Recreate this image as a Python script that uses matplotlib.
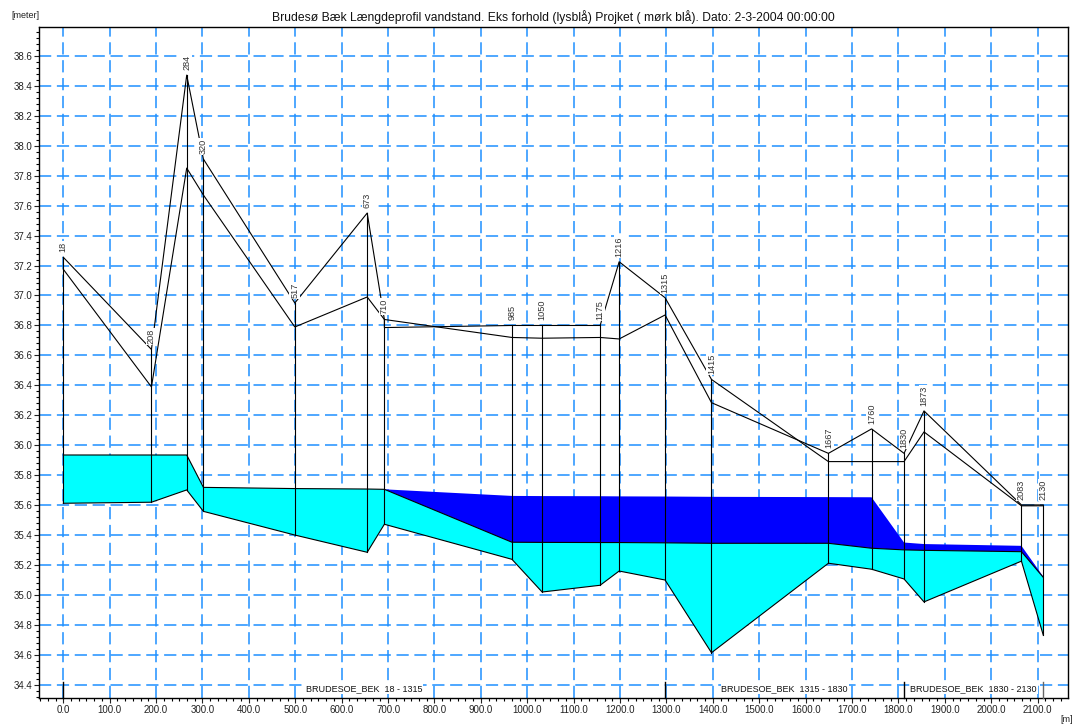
import matplotlib
matplotlib.use("Agg")
import matplotlib.pyplot as plt
from matplotlib.ticker import MultipleLocator, FormatStrFormatter
import numpy as np

plt.rcParams['font.family'] = ['Liberation Sans', 'DejaVu Sans']

# ---------------- data ----------------
title = "Brudesø Bæk Længdeprofil vandstand. Eks forhold (lysblå) Projket ( mørk blå). Dato: 2-3-2004 00:00:00"

# cross-section chainages (labels) along the stream
stations = [18, 208, 284, 320, 517, 673, 710, 985, 1050, 1175, 1216, 1315,
            1415, 1667, 1760, 1830, 1873, 2083, 2130]
# bed level
bed = [35.614, 35.621, 35.703, 35.56, 35.402, 35.287, 35.474, 35.240, 35.022,
       35.067, 35.162, 35.102, 34.617, 35.214, 35.174, 35.109, 34.956, 35.228, 34.735]
# existing water level (light blue)
wl_existing = [35.936, 35.936, 35.936, 35.72, 35.712, 35.709, 35.707, 35.354, 35.353,
               35.352, 35.352, 35.350, 35.347, 35.347, 35.314, 35.303, 35.300, 35.291, 35.12]
# project water level (dark blue)
wl_project = [35.936, 35.936, 35.936, 35.72, 35.712, 35.709, 35.707, 35.663, 35.662,
              35.661, 35.660, 35.659, 35.657, 35.655, 35.654, 35.352, 35.342, 35.330, 35.125]

# bank levels (710 appears twice: the two bank lines jump there)
bank_chainage = [18, 208, 284, 320, 517, 673, 710, 710, 985, 1050, 1175, 1216, 1315,
                 1415, 1667, 1760, 1830, 1873, 2083, 2130]
bank_a = [37.255, 36.64, 38.47, 37.91, 36.95, 37.55, 36.84, 36.84, 36.72, 36.715, 36.72,
          36.71, 36.87, 36.285, 35.947, 36.11, 35.947, 36.23, 35.603, 35.603]
bank_b = [37.175, 36.39, 37.85, 37.67, 36.79, 36.99, 36.84, 36.786, 36.80, 36.80, 36.80,
          37.225, 36.985, 36.44, 35.892, 35.892, 35.892, 36.09, 35.597, 35.597]

branch_names = ["BRUDESOE_BEK", "BRUDESOE_BEK", "BRUDESOE_BEK"]
branch_start = [18, 1315, 1830]
branch_end = [1315, 1830, 2130]

# ---------------- figure ----------------
W, H = 1081, 725
fig = plt.figure(figsize=(W / 100, H / 100), dpi=100)
ax = fig.add_axes([39.3 / W, 1 - 698.3 / H, (1067.7 - 39.3) / W, (698.3 - 26.7) / H])

x0 = stations[0]
xs = np.array(stations) - x0
bx = np.array(bank_chainage) - x0
bed_a = np.array(bed)
wle = np.array(wl_existing)
wlp = np.array(wl_project)

ax.set_xlim(-51.7, 2164.7)
ax.set_ylim(34.313, 38.793)

ax.set_axisbelow(True)
ax.grid(which='major', color='#1E90FF', linestyle=(0, (8, 3.7)), linewidth=1.1)

# fills
ax.fill_between(xs, bed_a, wle, facecolor='#00FFFF', edgecolor='none', zorder=2)
ax.fill_between(xs, wle, wlp, where=wlp > wle + 1e-9, interpolate=True,
                facecolor='#0000FF', edgecolor='none', zorder=2)
ax.plot(xs, bed_a, color='black', lw=0.8, zorder=3)
ax.plot(xs, wle, color='black', lw=0.8, zorder=3)

# bank lines
ax.plot(bx, bank_a, color='black', lw=0.8, zorder=3)
ax.plot(bx, bank_b, color='black', lw=0.8, zorder=3)

# vertical station lines and labels
top = {}
for c, a, b in zip(bank_chainage, bank_a, bank_b):
    top[c] = max(top.get(c, -1e9), a, b)
for xi, c, bd in zip(xs, stations, bed):
    ax.plot([xi, xi], [bd, top[c]], color='black', lw=0.8, zorder=3)
    ax.annotate(str(c), xy=(xi, top[c]), xytext=(0, 3.6), textcoords='offset points',
                rotation=90, ha='center', va='bottom', fontsize=6.6, color='#333333',
                bbox=dict(facecolor='white', edgecolor='none', pad=0.6), zorder=5)

# branch markers and labels
y_mark = 34.424
marks = [branch_start[0] - x0] + [e - x0 for e in branch_end]
for i, m in enumerate(marks):
    ax.plot([m, m], [34.313, y_mark], color='black' if i < 3 else '#666666',
            lw=1.0, zorder=4, clip_on=False)
for name, s, e in zip(branch_names, branch_start, branch_end):
    ax.text((s + e) / 2 - x0, 34.376, f"{name}  {s} - {e}", ha='center', va='center',
            fontsize=6.5, color='#111111', zorder=5,
            bbox=dict(facecolor='white', edgecolor='none', pad=0.5))

# ticks
ax.xaxis.set_major_locator(MultipleLocator(100))
ax.xaxis.set_minor_locator(MultipleLocator(100 / 6))
ax.yaxis.set_major_locator(MultipleLocator(0.2))
ax.yaxis.set_minor_locator(MultipleLocator(0.04))
ax.xaxis.set_major_formatter(FormatStrFormatter('%.1f'))
ax.yaxis.set_major_formatter(FormatStrFormatter('%.1f'))
ax.set_xticks([t for t in np.arange(0, 2101, 100)])
ax.tick_params(which='major', direction='out', length=3.6, width=0.8, labelsize=7,
               pad=1.5, colors='#222222')
ax.tick_params(which='minor', direction='out', length=2.0, width=0.8)
for sp in ax.spines.values():
    sp.set_linewidth(1.0)

fig.text((39.3 + 1067.7) / 2 / W, 1 - 17.5 / H, title, ha='center', va='center',
         fontsize=8.75, color='#111111')
fig.text(25 / W, 1 - 15 / H, "[meter]", ha='center', va='center', fontsize=6.5,
         color='#222222')
fig.text(1067 / W, 1 - 720 / H, "[m]", ha='center', va='center', fontsize=6.5,
         color='#222222')

fig.savefig("out.png", dpi=100)
